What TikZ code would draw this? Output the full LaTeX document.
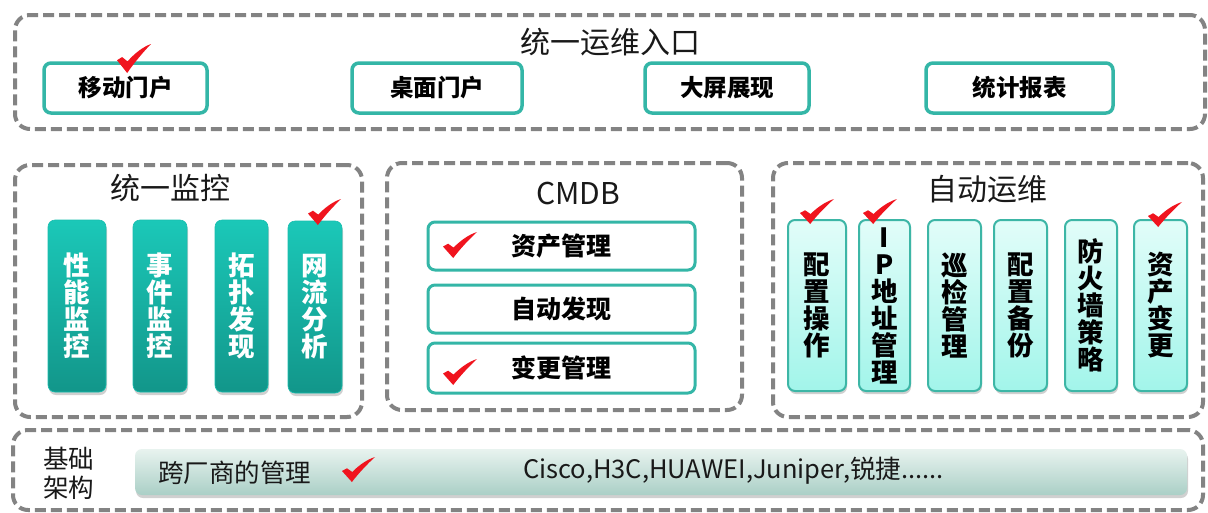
\documentclass[tikz,border=0pt]{standalone}
\usepackage{fontspec}
\setmainfont{Noto Sans CJK SC}
\usetikzlibrary{shadows}
\definecolor{dashgray}{HTML}{838383}
\definecolor{tealline}{HTML}{34B6A7}
\definecolor{darktop}{HTML}{1BC8B8}
\definecolor{darkbot}{HTML}{12968A}
\definecolor{lighttop}{HTML}{E2FDF9}
\definecolor{lightbot}{HTML}{A2F5EA}
\definecolor{lightline}{HTML}{3DB6A6}
\definecolor{bartop}{HTML}{E8F3EF}
\definecolor{barbot}{HTML}{AACFC6}
\definecolor{chkred}{HTML}{F0141E}
\tikzset{
  dashbox/.style={draw=dashgray, line width=4pt, dash pattern=on 11pt off 5pt,
    rounded corners=15pt, inner sep=0pt},
  titletext/.style={font=\fontsize{30}{33}\selectfont, text=black!90, inner sep=0pt},
  btn/.style={draw=tealline, line width=3.5pt, rounded corners=7pt, fill=white,
    inner sep=0pt, font=\bfseries\fontsize{23.5}{26}\selectfont},
  cmdbbtn/.style={btn, line width=3pt, font=\bfseries\fontsize{25}{27}\selectfont},
  darkpillar/.style={rounded corners=7pt, top color=darktop, bottom color=darkbot,
    draw=darktop!80!darkbot, line width=0.6pt,
    drop shadow={shadow xshift=1pt, shadow yshift=-3pt, opacity=0.3, fill=black!60},
    inner sep=0pt, align=center, text=white,
    font=\bfseries\fontsize{26.5}{27}\selectfont},
  lightpillar/.style={rounded corners=7pt, top color=lighttop, bottom color=lightbot,
    draw=lightline, line width=2pt,
    drop shadow={shadow xshift=1pt, shadow yshift=-3pt, opacity=0.3, fill=black!60},
    inner sep=0pt, align=center, text=black,
    font=\bfseries\fontsize{26.5}{27}\selectfont},
  basebar/.style={rounded corners=7pt, top color=bartop, bottom color=barbot,
    drop shadow={shadow xshift=1pt, shadow yshift=-3pt, opacity=0.3, fill=black!60},
    inner sep=0pt},
  plaintext/.style={font=\fontsize{25.5}{29}\selectfont, text=black!90, inner sep=0pt, align=left},
  chk/.pic={\fill[chkred] (0,0.56) -- (0.15,0.45) -- (0.31,0.6)
     .. controls (0.52,0.32) and (0.76,0.1) .. (1,0)
     .. controls (0.8,0.24) and (0.52,0.62) .. (0.3,1) -- cycle;}
}
\begin{document}
\begin{tikzpicture}[x=1pt,y=-1pt]
\useasboundingbox (0,0) rectangle (1208,512);
\fill[white] (0,0) rectangle (1208,512);

% top entry box
\node[dashbox, minimum width=1190pt, minimum height=114pt] (topbox) at (610,72) {};
\node[titletext] (toptitle) at (610,42) {统一运维入口};
\node[btn, minimum width=163pt, minimum height=50pt] (b1) at (125.5,88) {移动门户};
\node[btn, minimum width=170pt, minimum height=50pt] (b2) at (437,88) {桌面门户};
\node[btn, minimum width=164pt, minimum height=50pt] (b3) at (727,88) {大屏展现};
\node[btn, minimum width=187pt, minimum height=50pt] (b4) at (1019.5,88) {统计报表};
\pic[xscale=34,yscale=29] at (117,44) {chk};

% unified monitoring
\node[dashbox, minimum width=347pt, minimum height=252pt] (monbox) at (188.5,291) {};
\node[titletext] (montitle) at (170,188) {统一监控};
\node[darkpillar, minimum width=58pt, minimum height=172pt] (m1) at (77,306) {性\\能\\监\\控};
\node[darkpillar, minimum width=54pt, minimum height=172pt] (m2) at (160,306) {事\\件\\监\\控};
\node[darkpillar, minimum width=53pt, minimum height=172pt] (m3) at (241.5,306) {拓\\扑\\发\\现};
\node[darkpillar, minimum width=54pt, minimum height=172pt] (m4) at (315,307) {网\\流\\分\\析};
\pic[xscale=33,yscale=26] at (308,199) {chk};

% CMDB
\node[dashbox, minimum width=355pt, minimum height=247pt] (cmdbbox) at (564.5,286.5) {};
\node[titletext] (cmdbtitle) at (578,193) {CMDB};
\node[cmdbbtn, minimum width=267pt, minimum height=48pt] (c1) at (561.5,246) {资产管理};
\node[cmdbbtn, minimum width=267pt, minimum height=48pt] (c2) at (561.5,309) {自动发现};
\node[cmdbbtn, minimum width=267pt, minimum height=50pt] (c3) at (561.5,368) {变更管理};
\pic[xscale=34,yscale=26] at (443,232) {chk};
\pic[xscale=34,yscale=26] at (443,359) {chk};

% automated operations
\node[dashbox, minimum width=430pt, minimum height=254pt] (autobox) at (988,290) {};
\node[titletext] (autotitle) at (987,189) {自动运维};
\node[lightpillar, minimum width=58pt, minimum height=171pt] (a1) at (817,305.5) {配\\置\\操\\作};
\node[lightpillar, minimum width=51pt, minimum height=171pt] (a2) at (884.5,305.5) {I\\P\\地\\址\\管\\理};
\node[lightpillar, minimum width=53pt, minimum height=171pt] (a3) at (954.5,305.5) {巡\\检\\管\\理};
\node[lightpillar, minimum width=53pt, minimum height=171pt] (a4) at (1020.5,305.5) {配\\置\\备\\份};
\node[lightpillar, minimum width=52pt, minimum height=171pt] (a5) at (1091,305.5) {防\\火\\墙\\策\\略};
\node[lightpillar, minimum width=53pt, minimum height=171pt] (a6) at (1160.5,305.5) {资\\产\\变\\更};
\pic[xscale=34,yscale=25] at (800,199) {chk};
\pic[xscale=34,yscale=25] at (863,199) {chk};
\pic[xscale=34,yscale=25] at (1148,202) {chk};

% base infrastructure
\node[dashbox, minimum width=1190pt, minimum height=80pt] (basebox) at (608,470) {};
\node[plaintext] (basetitle) at (68.5,473) {基础\\架构};
\node[basebar, minimum width=1052pt, minimum height=46pt] (bar) at (661,472) {};
\node[plaintext, anchor=west] (vendor) at (158,473) {跨厂商的管理};
\node[plaintext, anchor=west, font=\fontsize{25.5}{28}\selectfont] (brands) at (523,471) {Cisco,H3C,HUAWEI,Juniper,锐捷......};
\pic[xscale=33,yscale=25] at (342,457) {chk};
\end{tikzpicture}
\end{document}
